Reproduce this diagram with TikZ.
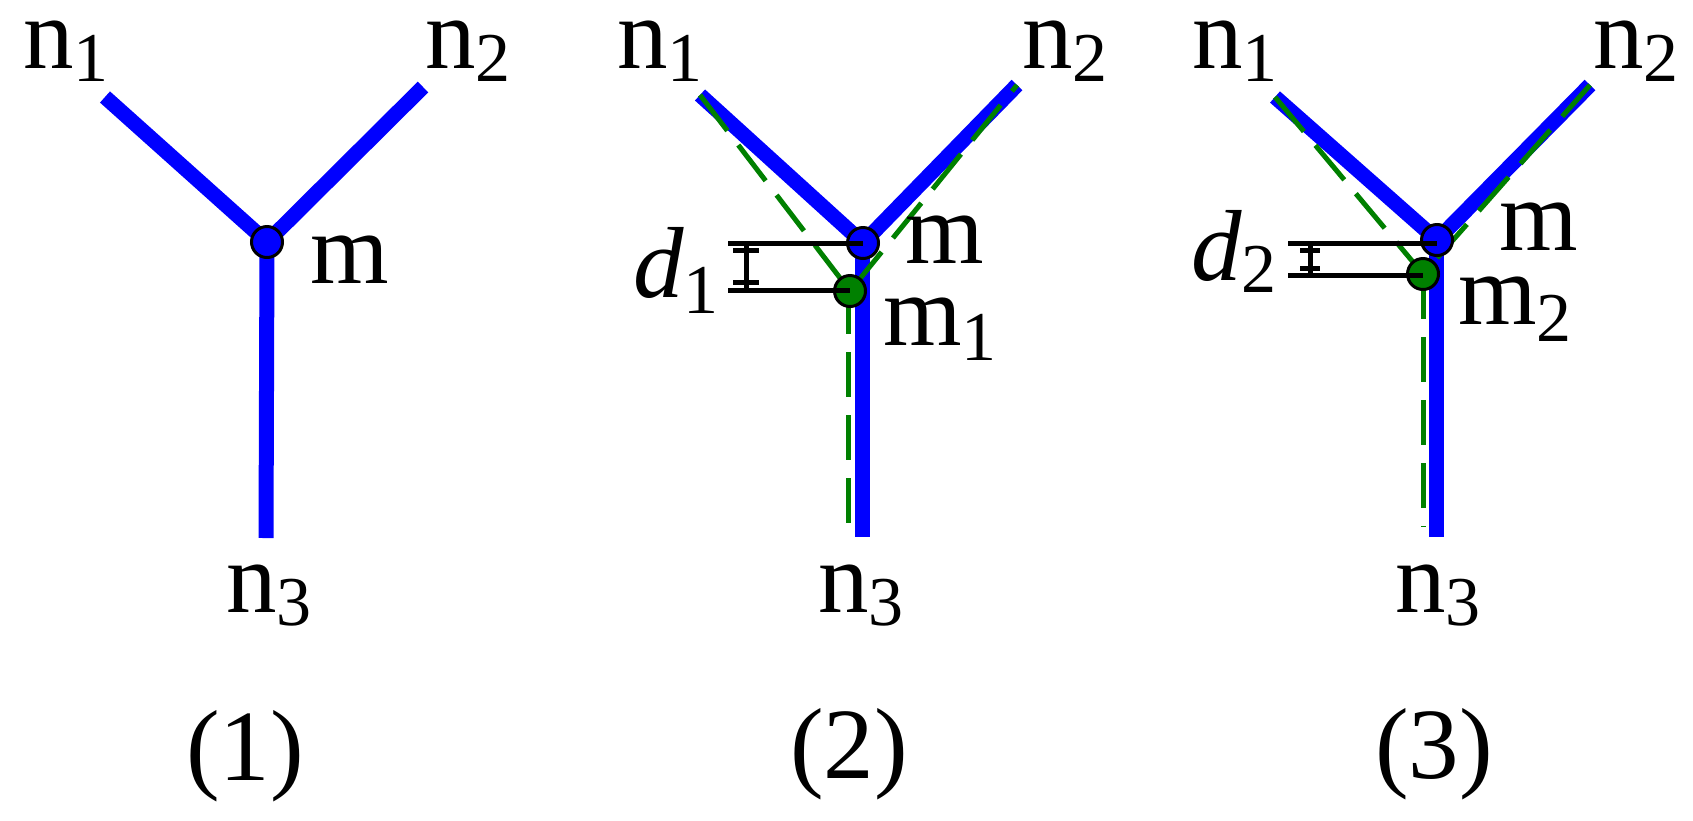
\documentclass[tikz,border=0pt]{standalone}
\usepackage{fontspec}
\setmainfont{Liberation Serif}
\definecolor{dkgreen}{RGB}{0,128,0}
\newcommand{\lsub}[2][13pt]{\raisebox{-#1}{\fontsize{70}{70}\selectfont #2}}
\tikzset{
  edge/.style={draw=blue, line width=15pt},
  ghost/.style={draw=dkgreen, line width=5pt, dash pattern=on 45pt off 18pt},
  bdot/.style={circle, fill=blue, draw=black, line width=3pt, minimum size=31pt, inner sep=0pt},
  gdot/.style={circle, fill=dkgreen, draw=black, line width=3pt, minimum size=31pt, inner sep=0pt},
  lbl/.style={inner sep=0pt, anchor=base west, font=\fontsize{101}{101}\selectfont},
  capt/.style={inner sep=0pt, anchor=base, font=\fontsize{101}{101}\selectfont},
  dimline/.style={draw=black, line width=5pt},
}
\begin{document}
\begin{tikzpicture}[x=1pt,y=-1pt]
\useasboundingbox (0,0) rectangle (1693,820);
% ---------- panel 1
\coordinate (A) at (267,242);
\coordinate (A1) at (105,97);
\coordinate (A2) at (423,87);
\coordinate (A3) at (266,538);
\draw[edge] (A1) -- (A) -- (A2);
\draw[edge] (A) -- (A3);
\node[bdot] (Am) at (A) {};
\node[lbl] (An1) at (23,68) {n\lsub{1}};
\node[lbl] (An2) at (425,68) {n\lsub{2}};
\node[lbl] (Aml) at (310,283) {m};
\node[lbl] (An3) at (226,612) {n\lsub{3}};
\node[capt] (Acap) at (245,780) {(1)};
% ---------- panel 2
\coordinate (B) at (863,243);
\coordinate (B1) at (700,95);
\coordinate (B2) at (1017,85);
\coordinate (B3) at (862,537);
\coordinate (Bg) at (850,291);
\coordinate (Bg3) at (848,527);
\draw[edge] (B1) -- (B) -- (B2);
\draw[edge] (B) -- (862,243) -- (B3);
\draw[ghost] (B1) -- (Bg) -- (B2);
\draw[ghost] (Bg) -- (848,291) -- (Bg3);
\node[bdot] (Bm) at (B) {};
\node[gdot] (Bm1) at (Bg) {};
\coordinate (Bt) at (728,243);
\coordinate (Bb) at (728,290);
\draw[dimline] (Bt) -- (Bm.center);
\draw[dimline] (Bb) -- (Bm1.center |- Bb);
\draw[dimline] (746,243) -- (746,290);
\draw[dimline] (733,250) -- (759,250);
\draw[dimline] (733,282) -- (759,282);
\node[lbl] (Bn1) at (617,68) {n\lsub{1}};
\node[lbl] (Bn2) at (1022,68) {n\lsub{2}};
\node[lbl] (Bml) at (905,263) {m};
\node[lbl] (Bm1l) at (883,345) {m\lsub[15pt]{1}};
\node[lbl] (Bd) at (633,297) {\textit{d}\lsub[16pt]{1}};
\node[lbl] (Bn3) at (818,612) {n\lsub{3}};
\node[capt] (Bcap) at (849,778) {(2)};
% ---------- panel 3
\coordinate (C) at (1437,240);
\coordinate (C1) at (1275,97);
\coordinate (C2) at (1590,85);
\coordinate (C3) at (1436,537);
\coordinate (Cg) at (1423,274);
\coordinate (Cg3) at (1423,527);
\draw[edge] (C1) -- (C) -- (C2);
\draw[edge] (C) -- (1436,240) -- (C3);
\draw[ghost] (C1) -- (Cg) -- (C2);
\draw[ghost] (Cg) -- (Cg3);
\node[bdot] (Cm) at (C) {};
\node[gdot] (Cm2) at (Cg) {};
\coordinate (Ct) at (1288,243);
\coordinate (Cb) at (1288,275);
\draw[dimline] (Ct) -- (Cm.center |- Ct);
\draw[dimline] (Cb) -- (Cm2.center |- Cb);
\draw[dimline] (1310,243) -- (1310,275);
\draw[dimline] (1300,250) -- (1320,250);
\draw[dimline] (1300,268) -- (1320,268);
\node[lbl] (Cn1) at (1192,68) {n\lsub{1}};
\node[lbl] (Cn2) at (1593,68) {n\lsub{2}};
\node[lbl] (Cml) at (1499,250) {m};
\node[lbl] (Cm2l) at (1458,324) {m\lsub[17pt]{2}};
\node[lbl] (Cd) at (1191,280) {\textit{d}\lsub[12pt]{2}};
\node[lbl] (Cn3) at (1395,612) {n\lsub{3}};
\node[capt] (Ccap) at (1434,778) {(3)};
\end{tikzpicture}
\end{document}
